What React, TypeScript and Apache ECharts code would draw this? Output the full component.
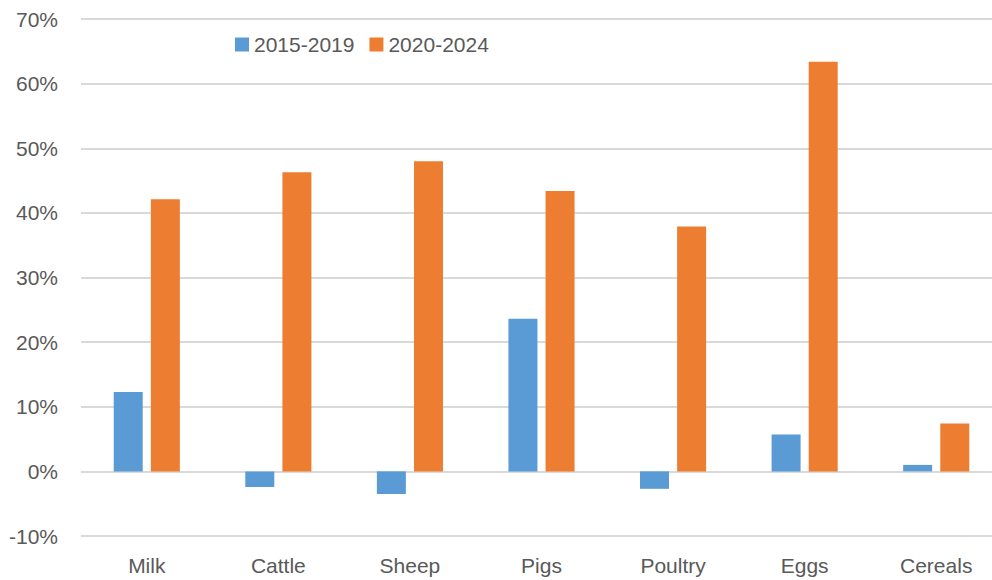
import React, { useEffect, useRef } from "react";
import * as echarts from "echarts";

// Price change by product, two five-year periods (%)
const categories = ["Milk", "Cattle", "Sheep", "Pigs", "Poultry", "Eggs", "Cereals"];
const seriesNames = ["2015-2019", "2020-2024"];
const change2015to2019 = [12.3, -2.4, -3.5, 23.6, -2.7, 5.7, 1.0];
const change2020to2024 = [42.1, 46.3, 48.0, 43.4, 37.9, 63.4, 7.4];

const FONT = "'Liberation Sans', Arial, sans-serif";
const TEXT_COLOR = "#595959";

export default function App() {
  const ref = useRef<HTMLDivElement>(null);

  useEffect(() => {
    if (!ref.current) return;
    const chart = echarts.init(ref.current, undefined, { renderer: "svg" });
    chart.setOption({
      animation: false,
      backgroundColor: "#ffffff",
      textStyle: { fontFamily: FONT },
      legend: {
        data: seriesNames,
        left: 230,
        top: 29,
        itemWidth: 14,
        itemHeight: 14,
        itemGap: 15,
        icon: "rect",
        textStyle: { color: TEXT_COLOR, fontSize: 21, fontFamily: FONT },
      },
      // the plot runs a little past the visible frame on the right
      grid: { left: 81, top: 19, width: 921, height: 517, containLabel: false },
      xAxis: {
        type: "category",
        data: categories,
        axisLine: { show: false },
        axisTick: { show: false },
        axisLabel: { color: TEXT_COLOR, fontSize: 21, margin: 19, fontFamily: FONT },
      },
      yAxis: {
        type: "value",
        min: -10,
        max: 70,
        interval: 10,
        axisLine: { show: false },
        axisTick: { show: false },
        axisLabel: {
          formatter: "{value}%",
          color: TEXT_COLOR,
          fontSize: 21,
          margin: 23,
          fontFamily: FONT,
        },
        splitLine: { lineStyle: { color: "#d9d9d9", width: 2 } },
      },
      series: [
        {
          name: seriesNames[0],
          type: "bar",
          data: change2015to2019,
          barWidth: 29,
          barGap: "28%",
          itemStyle: { color: "#5b9bd5" },
        },
        {
          name: seriesNames[1],
          type: "bar",
          data: change2020to2024,
          barWidth: 29,
          barGap: "28%",
          itemStyle: { color: "#ed7d31" },
        },
      ],
    });
    return () => chart.dispose();
  }, []);

  return (
    <div
      style={{
        position: "fixed",
        left: 0,
        top: 0,
        width: 992,
        height: 580,
        overflow: "hidden",
        background: "#fff",
      }}
    >
      <div ref={ref} style={{ width: 1010, height: 580 }} />
    </div>
  );
}
